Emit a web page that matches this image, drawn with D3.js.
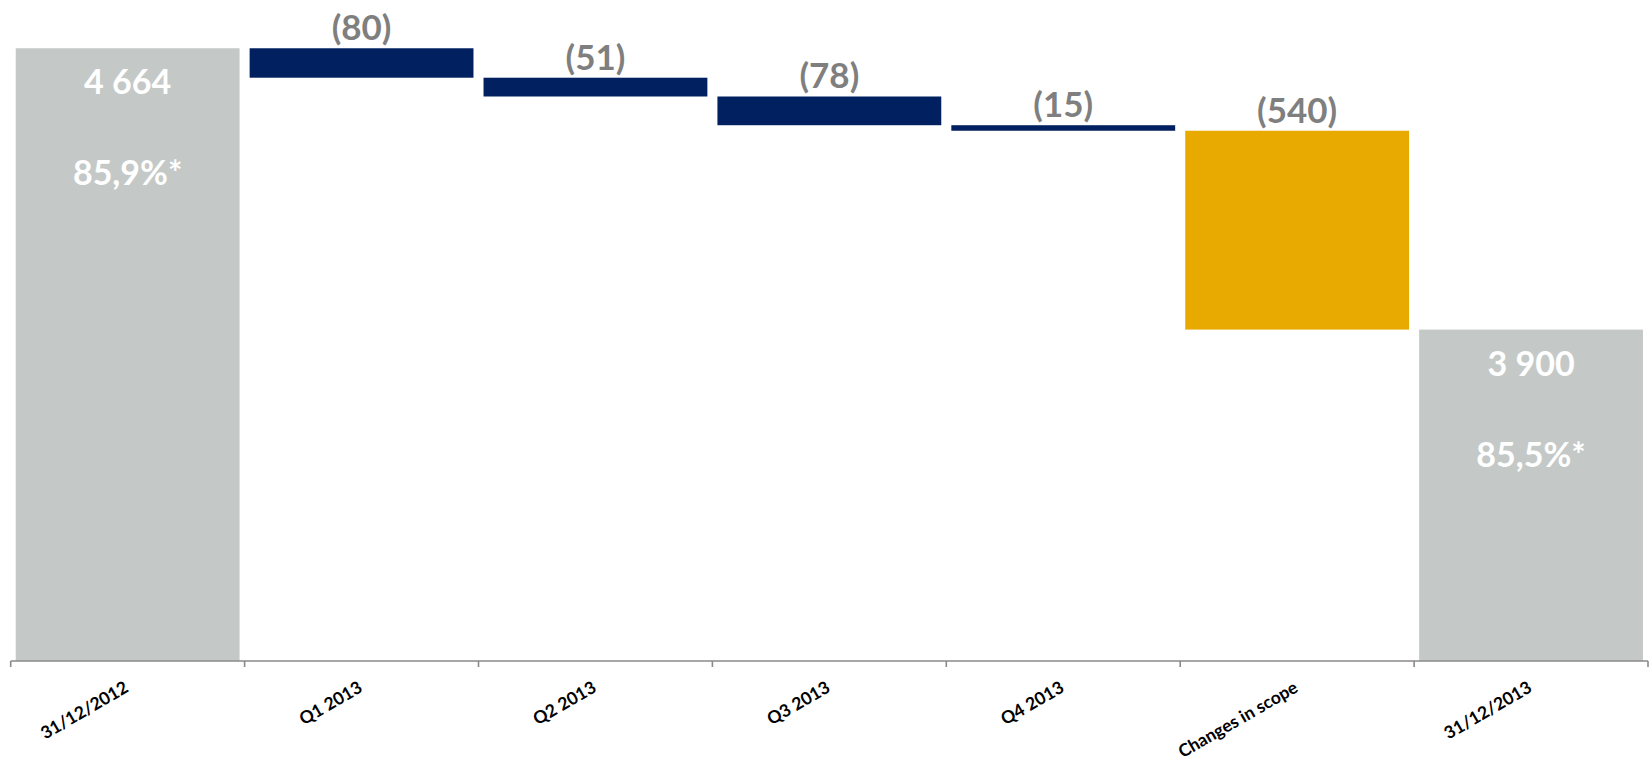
<!DOCTYPE html>
<html>
<head>
<meta charset="utf-8">
<script src="https://cdn.jsdelivr.net/npm/d3@7"></script>
<style>
  body { margin: 0; background: #fff; }
  svg { display: block; }
</style>
</head>
<body>
<svg></svg>
<script>
const categories = ['31/12/2012', 'Q1 2013', 'Q2 2013', 'Q3 2013', 'Q4 2013', 'Changes in scope', '31/12/2013'];
const values = [4664, -80, -51, -78, -15, -540, 3900];
const kinds = ['total', 'delta', 'delta', 'delta', 'delta', 'scope', 'total'];
const valueLabels = ['4 664', '(80)', '(51)', '(78)', '(15)', '(540)', '3 900'];
const shareLabels = ['85,9%*', null, null, null, null, null, '85,5%*'];

const width = 1652;
const height = 763;
const colors = { total: '#c4c9c8', delta: '#002060', scope: '#e8aa00' };

const svg = d3.select('svg').attr('width', width).attr('height', height);

// running totals for the waterfall
let running = 0;
const bars = categories.map((c, i) => {
  let y0, y1;
  if (kinds[i] === 'total') {
    y0 = 3000;
    y1 = values[i];
    running = values[i];
  } else {
    y0 = running + values[i];
    y1 = running;
    running = y0;
  }
  return { cat: c, kind: kinds[i], lo: y0, hi: y1, label: valueLabels[i], share: shareLabels[i] };
});

const x = d3.scaleBand()
  .domain(categories)
  .range([10.7, 1648])
  .paddingInner(0.043)
  .paddingOuter(0.0215);

const y = d3.scaleLinear().domain([3000, 4700]).range([661, 35]);

const g = svg.append('g');

g.selectAll('rect.bar')
  .data(bars)
  .enter()
  .append('rect')
  .attr('class', 'bar')
  .attr('x', (d) => x(d.cat))
  .attr('width', x.bandwidth())
  .attr('y', (d) => y(d.hi))
  .attr('height', (d) => y(d.lo) - y(d.hi))
  .attr('fill', (d) => colors[d.kind]);

// labels above the change bars
g.selectAll('text.delta')
  .data(bars.filter((d) => d.kind !== 'total'))
  .enter()
  .append('text')
  .attr('class', 'delta')
  .attr('x', (d) => x(d.cat) + x.bandwidth() / 2)
  .attr('y', (d) => y(d.hi) - 8)
  .attr('text-anchor', 'middle')
  .style('font-family', 'Lato, sans-serif')
  .style('font-weight', 'bold')
  .style('font-size', '35px')
  .style('fill', '#7f7f7f')
  .text((d) => d.label);

// labels inside the totals
const totals = bars.filter((d) => d.kind === 'total');
g.selectAll('text.total')
  .data(totals)
  .enter()
  .append('text')
  .attr('class', 'total')
  .attr('x', (d) => x(d.cat) + x.bandwidth() / 2)
  .attr('y', (d) => y(d.hi) + 46)
  .attr('text-anchor', 'middle')
  .style('font-family', 'Lato, sans-serif')
  .style('font-weight', 'bold')
  .style('font-size', '34px')
  .style('fill', '#fff')
  .text((d) => d.label);

g.selectAll('text.share')
  .data(totals)
  .enter()
  .append('text')
  .attr('class', 'share')
  .attr('x', (d) => x(d.cat) + x.bandwidth() / 2)
  .attr('y', (d) => y(d.hi) + 137)
  .attr('text-anchor', 'middle')
  .style('font-family', 'Lato, sans-serif')
  .style('font-weight', 'bold')
  .style('font-size', '34px')
  .style('fill', '#fff')
  .text((d) => d.share);

// category axis, ticks between bands
const axis = svg.append('g').attr('transform', 'translate(0,' + y(3000) + ')');
const r = x.range();
axis.append('line')
  .attr('x1', r[0]).attr('x2', r[1])
  .attr('y1', 0).attr('y2', 0)
  .attr('stroke', '#8a8a8a')
  .attr('stroke-width', 1.6);

const boundaries = d3.range(categories.length + 1).map((i) => r[0] + i * x.step());
axis.selectAll('line.tick')
  .data(boundaries)
  .enter()
  .append('line')
  .attr('class', 'tick')
  .attr('x1', (d) => d).attr('x2', (d) => d)
  .attr('y1', 0).attr('y2', 6)
  .attr('stroke', '#8a8a8a')
  .attr('stroke-width', 1.6);

axis.selectAll('text')
  .data(categories)
  .enter()
  .append('text')
  .attr('text-anchor', 'end')
  .attr('transform', (d) => 'translate(' + (x(d) + x.bandwidth() / 2 + 2) + ',30) rotate(-30)')
  .style('font-family', 'Lato, sans-serif')
  .style('font-weight', 'bold')
  .style('font-size', '17.5px')
  .style('fill', '#000')
  .text((d) => d);
</script>
</body>
</html>
